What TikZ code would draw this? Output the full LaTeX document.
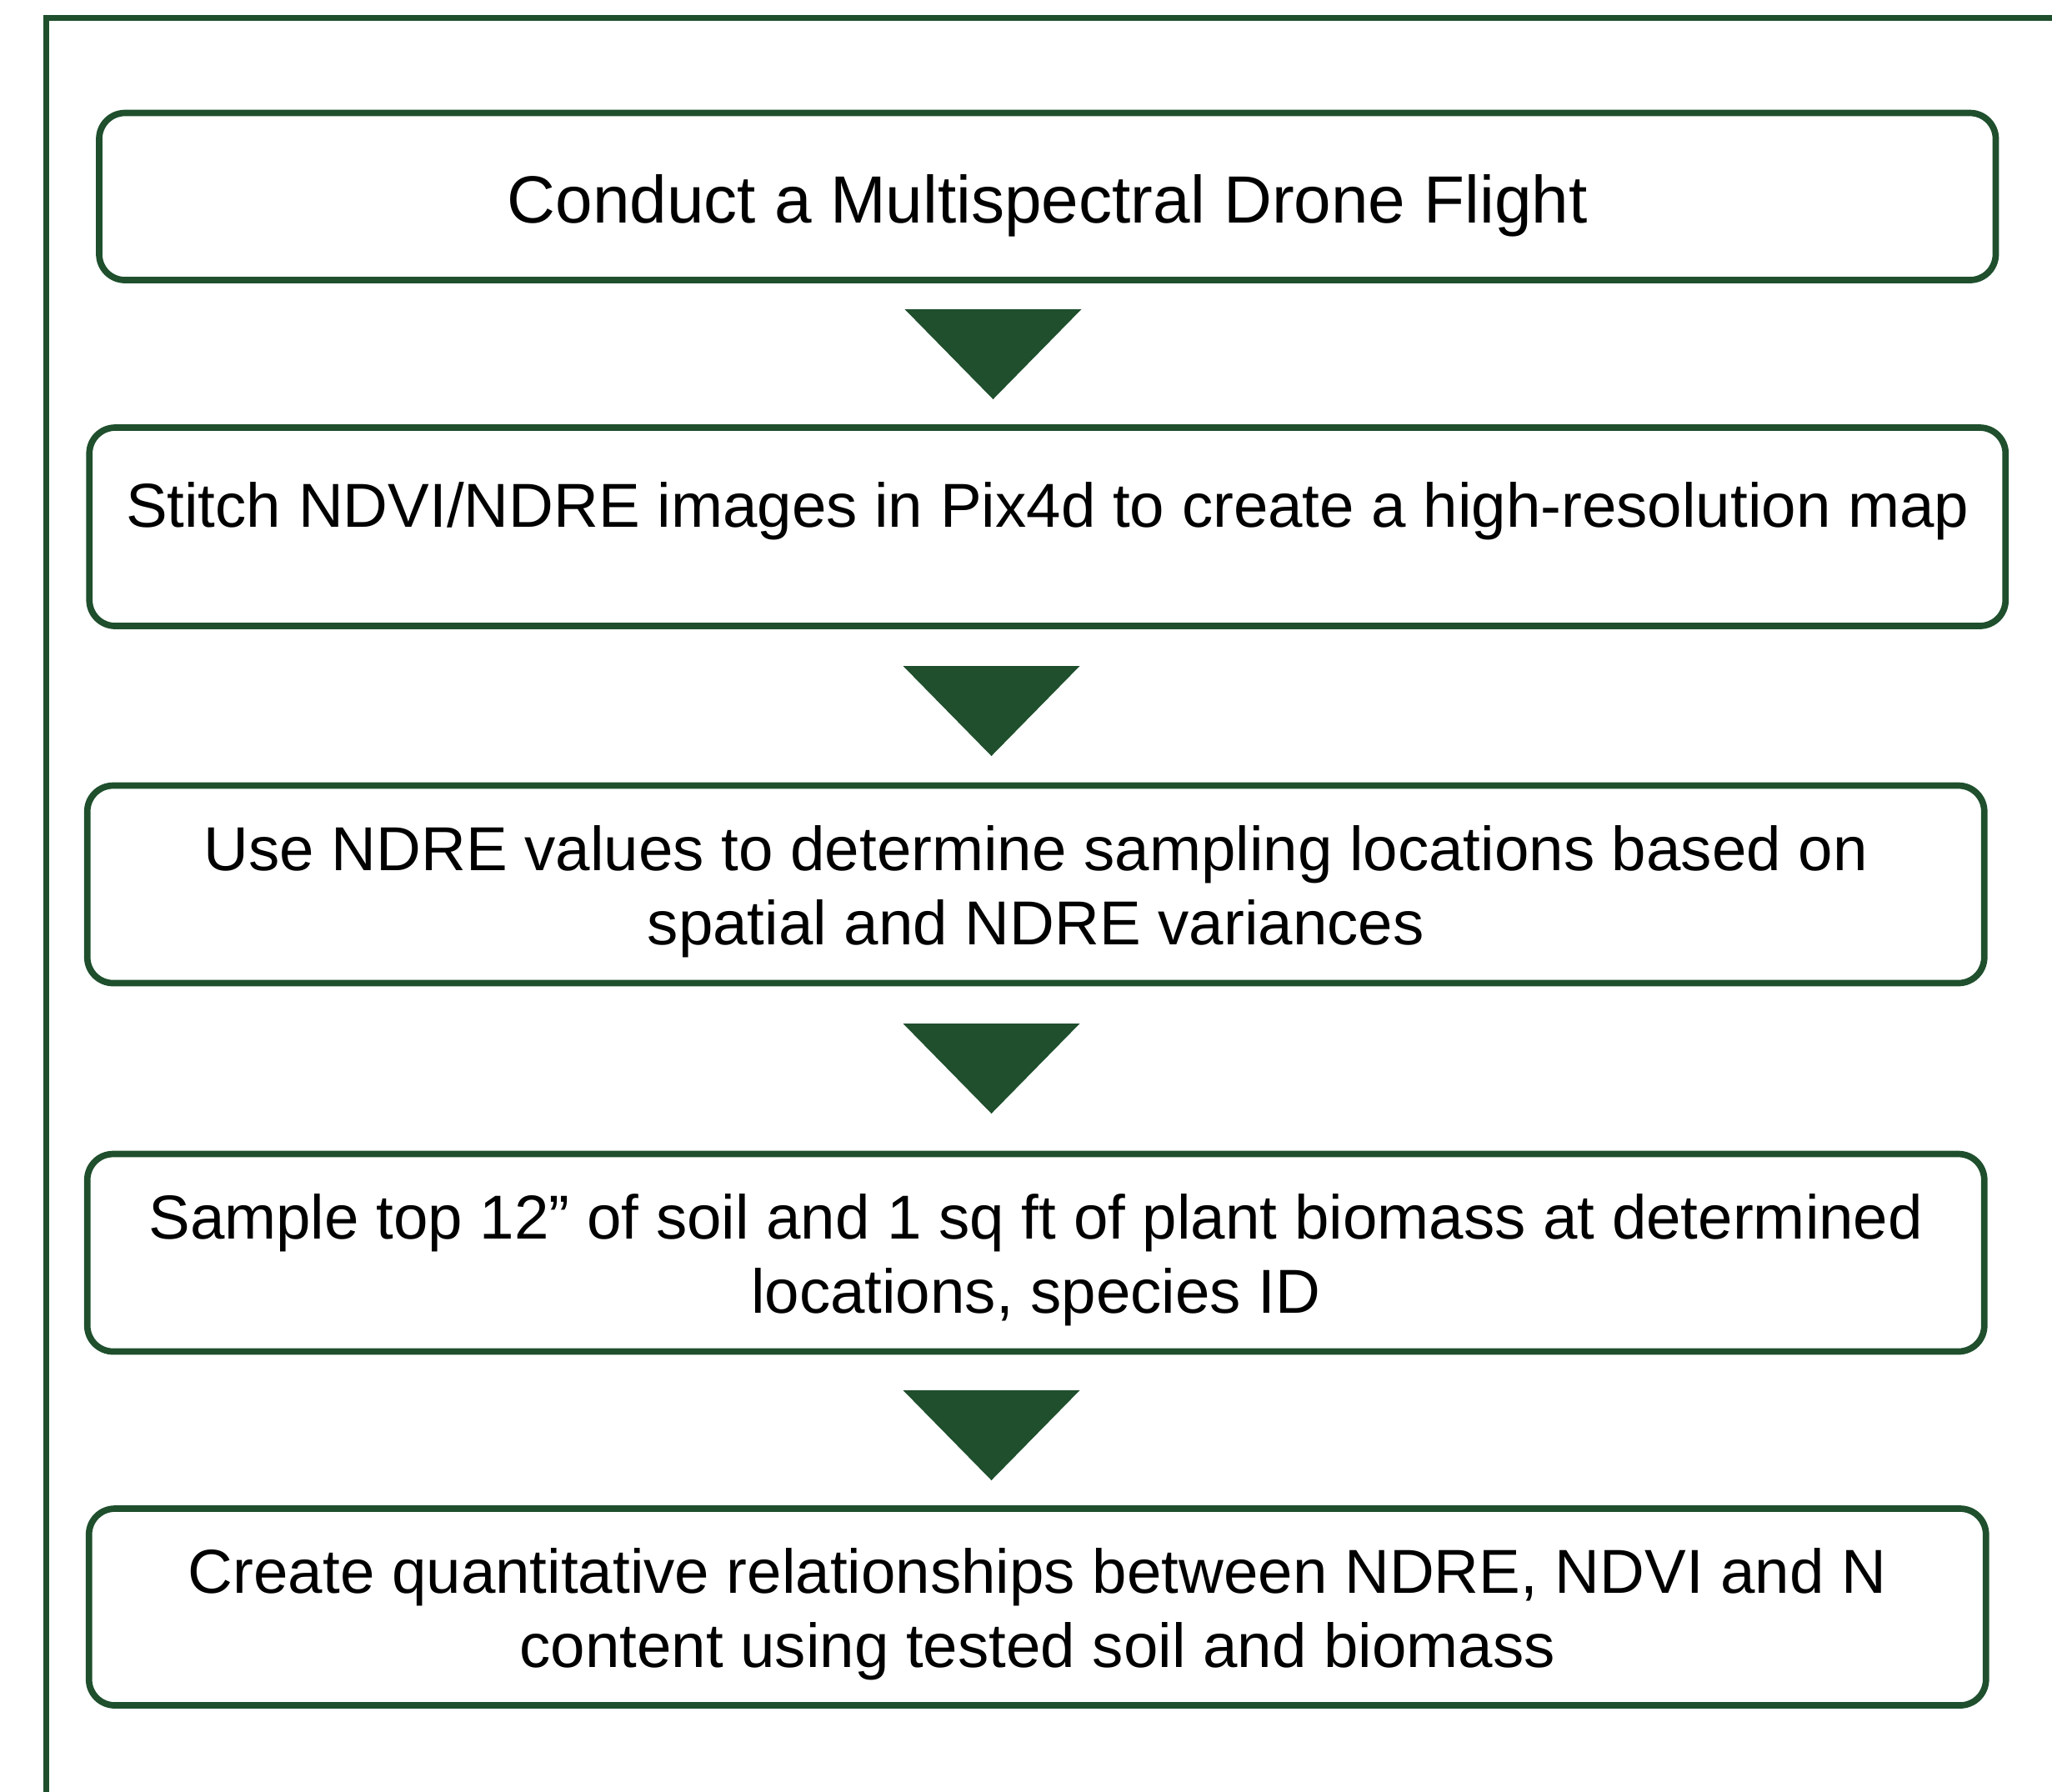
\documentclass[tikz,border=0pt]{standalone}
\usepackage{fontspec}
\setmainfont{Liberation Sans}
\usepackage{tikz}
\usetikzlibrary{positioning}
\definecolor{flowgreen}{RGB}{31,79,45}
\newcommand\downtri[2]{\fill[flowgreen] (#1-1.06,#2) -- (#1+1.06,#2) -- (#1,#2-1.08) -- cycle;}

\begin{document}
\begin{tikzpicture}[node distance=4cm,on grid,
    stepbox/.style={draw=flowgreen,line width=0.077cm,rounded corners=0.31cm,
      minimum width=22.76cm,minimum height=2.37cm,align=center,
      text height=46pt,text depth=4.5pt,
      font=\fontsize{21.2}{25.5}\selectfont},
    frame/.style={draw=flowgreen,line width=0.077cm}]
   \useasboundingbox (0,0) rectangle (24.62,-21.49);
   \draw[frame] (24.8,-0.215) -- (0.555,-0.215) -- (0.555,-21.7);
   \node[stepbox,minimum width=22.755cm,minimum height=2.005cm,
      font=\fontsize{22.8}{25.5}\selectfont,text height=23.1pt,text depth=4.8pt]
      (s_1) at (12.5675,-2.3575) {Conduct a Multispectral Drone Flight};
   \node[stepbox,minimum width=22.99cm,minimum height=2.38cm,text height=16pt,text depth=15.5pt]
      (s_2) [below=3.9625cm of s_1]
      {Stitch NDVI/NDRE images in Pix4d to create a high-resolution map};
   \node[stepbox] (s_3) [below=4.29cm of s_2,xshift=-0.14cm]
      {Use NDRE values to determine sampling locations based on\\ spatial and NDRE variances};
   \node[stepbox] (s_4) [below=4.42cm of s_3]
      {Sample top 12” of soil and 1 sq ft of plant biomass at determined\\ locations, species ID};
   \node[stepbox,minimum height=2.36cm] (s_5) [below=4.25cm of s_4,xshift=0.02cm]
      {Create quantitative relationships between NDRE, NDVI and N\\ content using tested soil and biomass};
   \downtri{11.915}{-3.71}
   \downtri{11.895}{-7.99}
   \downtri{11.895}{-12.28}
   \downtri{11.895}{-16.68}
\end{tikzpicture}
\end{document}
